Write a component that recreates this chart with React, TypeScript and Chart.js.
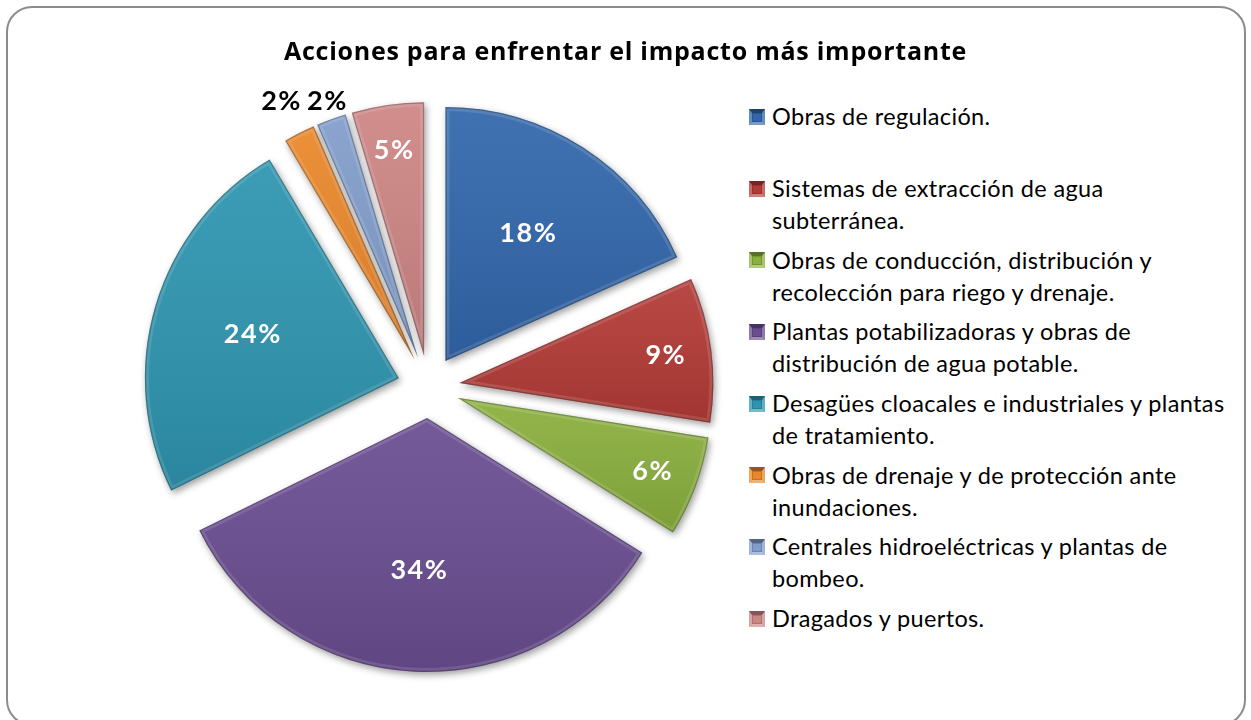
import React, { useEffect, useRef } from "react";
import { Chart, registerables } from "chart.js";

Chart.register(...registerables);

const chartTitle = "Acciones para enfrentar el impacto más importante";

// Legend categories (line breaks as in the original legend)
const categories: string[][] = [
  ["Obras de regulación."],
  ["Sistemas de extracción de agua", "subterránea."],
  ["Obras de conducción, distribución y", "recolección para riego y drenaje."],
  ["Plantas potabilizadoras y obras de", "distribución de agua potable."],
  ["Desagües cloacales e industriales y plantas", "de tratamiento."],
  ["Obras de drenaje y de protección ante", "inundaciones."],
  ["Centrales hidroeléctricas y plantas de", "bombeo."],
  ["Dragados y puertos."],
];

// Shares (%); labels show the rounded values
const shares = [18.3, 9.2, 6.4, 33.8, 23.8, 2.0, 1.9, 4.6];

const sliceColors = [
  "#3166AB",
  "#B33A36",
  "#8AAF3D",
  "#6A4D91",
  "#2E95B0",
  "#EA872A",
  "#819DCB",
  "#CD8584",
];

const FONT = "Lato, 'Open Sans', sans-serif";
const EXPLODE = 31;

const explodePlugin = {
  id: "explode",
  beforeDatasetDraw(chart: any, args: any) {
    const ctx: CanvasRenderingContext2D = chart.ctx;
    const arcs = args.meta.data;
    arcs.forEach((arc: any) => {
      const p = arc.getProps(["x", "y", "startAngle", "endAngle", "outerRadius"], true);
      const mid = (p.startAngle + p.endAngle) / 2;
      const dx = Math.cos(mid) * EXPLODE;
      const dy = Math.sin(mid) * EXPLODE;
      ctx.save();
      ctx.translate(dx, dy);
      ctx.shadowColor = "rgba(0,0,0,0.38)";
      ctx.shadowBlur = 7;
      ctx.shadowOffsetX = 2;
      ctx.shadowOffsetY = 3;
      arc.draw(ctx);
      ctx.restore();

      ctx.save();
      ctx.translate(dx, dy);
      ctx.beginPath();
      ctx.moveTo(p.x, p.y);
      ctx.arc(p.x, p.y, p.outerRadius, p.startAngle, p.endAngle);
      ctx.closePath();
      ctx.clip();
      let minY = p.y;
      let maxY = p.y;
      for (let k = 0; k <= 24; k++) {
        const a = p.startAngle + ((p.endAngle - p.startAngle) * k) / 24;
        const yy = p.y + Math.sin(a) * p.outerRadius;
        minY = Math.min(minY, yy);
        maxY = Math.max(maxY, yy);
      }
      const g = ctx.createLinearGradient(0, minY, 0, maxY + 1);
      g.addColorStop(0, "rgba(255,255,255,0.07)");
      g.addColorStop(1, "rgba(0,0,0,0.10)");
      ctx.fillStyle = g;
      ctx.fillRect(p.x - p.outerRadius - 5, minY - 5, 2 * p.outerRadius + 10, maxY - minY + 10);
      ctx.lineJoin = "round";
      ctx.lineWidth = 8;
      ctx.strokeStyle = "rgba(255,255,255,0.12)";
      ctx.stroke();
      ctx.lineWidth = 2.5;
      ctx.strokeStyle = "rgba(0,0,0,0.25)";
      ctx.stroke();
      ctx.restore();
    });
    return false;
  },
};

const labelPlugin = {
  id: "pctLabels",
  afterDatasetsDraw(chart: any) {
    const ctx: any = chart.ctx;
    const meta = chart.getDatasetMeta(0);
    const data: number[] = chart.data.datasets[0].data;
    const total = data.reduce((a, b) => a + b, 0);
    ctx.save();
    ctx.font = `bold 27px ${FONT}`;
    ctx.letterSpacing = "1.5px";
    ctx.textAlign = "center";
    ctx.textBaseline = "middle";
    const items: { text: string; x: number; y: number; color: string; outside: boolean; w: number }[] = [];
    meta.data.forEach((arc: any, i: number) => {
      const p = arc.getProps(["x", "y", "startAngle", "endAngle", "outerRadius"], true);
      const mid = (p.startAngle + p.endAngle) / 2;
      const pct = (data[i] / total) * 100;
      const text = Math.round(pct) + "%";
      const outside = pct < 3;
      const dist = outside
        ? EXPLODE + p.outerRadius + 27
        : EXPLODE + (pct >= 15 ? 0.6 : 0.82) * p.outerRadius;
      items.push({
        text,
        x: p.x + Math.cos(mid) * dist,
        y: p.y + Math.sin(mid) * dist,
        color: outside ? "#000000" : "#FFFFFF",
        outside,
        w: ctx.measureText(text).width,
      });
    });
    // resolve overlaps between neighbouring outside labels
    const outs = items.filter((it) => it.outside);
    for (let k = 1; k < outs.length; k++) {
      const a = outs[k - 1];
      const b = outs[k];
      const need = (a.w + b.w) / 2 + 5;
      const gap = Math.abs(b.x - a.x);
      if (gap < need) {
        const push = (need - gap) / 2;
        const dir = b.x >= a.x ? 1 : -1;
        a.x -= push * dir;
        b.x += push * dir;
        const my = (a.y + b.y) / 2;
        a.y = my;
        b.y = my;
      }
    }
    items.forEach((it) => {
      ctx.fillStyle = it.color;
      ctx.fillText(it.text, it.x, it.y);
    });
    ctx.restore();
  },
};

function Marker({ color }: { color: string }) {
  return (
    <div
      style={{
        width: 16,
        height: 16,
        boxSizing: "border-box",
        marginTop: 8.6,
        marginRight: 7,
        flex: "0 0 auto",
        background: color,
        borderStyle: "solid",
        borderWidth: "4px 3px 3px 3px",
        borderTopColor: "rgba(0,0,0,0.35)",
        borderLeftColor: "rgba(255,255,255,0.25)",
        borderRightColor: "rgba(255,255,255,0.25)",
        borderBottomColor: "rgba(255,255,255,0.35)",
        boxShadow: "inset 0 0 0 1px rgba(0,0,0,0.15)",
      }}
    />
  );
}

export default function App() {
  const canvasRef = useRef<HTMLCanvasElement | null>(null);

  useEffect(() => {
    const canvas = canvasRef.current;
    if (!canvas) return;
    const chart = new Chart(canvas, {
      type: "pie",
      data: {
        labels: categories.map((l) => l.join(" ")),
        datasets: [
          {
            data: shares,
            backgroundColor: sliceColors,
            borderWidth: 0,
            hoverOffset: 0,
            offset: 0,
            radius: 254,
          } as any,
        ],
      },
      options: {
        responsive: false,
        animation: false,
        devicePixelRatio: 1,
        events: [],
        layout: { padding: { left: 128.6, right: 11.4, top: 87, bottom: 33 } },
        plugins: {
          legend: { display: false },
          tooltip: { enabled: false },
          title: { display: false },
        },
      } as any,
      plugins: [explodePlugin as any, labelPlugin as any],
    });
    return () => chart.destroy();
  }, []);

  return (
    <div
      style={{
        position: "fixed",
        left: 0,
        top: 0,
        width: 1251,
        height: 720,
        overflow: "hidden",
        background: "#ffffff",
        fontFamily: FONT,
      }}
    >
      <div
        style={{
          position: "absolute",
          left: 6,
          top: 6,
          width: 1240,
          height: 720,
          boxSizing: "border-box",
          border: "2px solid #8c8c8c",
          borderRadius: 26,
        }}
      />
      <canvas
        ref={canvasRef}
        width={740}
        height={720}
        style={{ position: "absolute", left: 0, top: 0, width: 740, height: 720 }}
      />
      <div
        style={{
          position: "absolute",
          left: 0,
          top: 35.3,
          width: 1251,
          textAlign: "center",
          fontFamily: "'Open Sans', Lato, sans-serif",
          fontWeight: 700,
          fontSize: 25,
          letterSpacing: 0.75,
          lineHeight: "30px",
          color: "#000",
          whiteSpace: "nowrap",
        }}
      >
        {chartTitle}
      </div>
      <div style={{ position: "absolute", left: 749, top: 100.3 }}>
        {categories.map((lines, i) => (
          <div key={i} style={{ display: "flex", height: 71.7, alignItems: "flex-start" }}>
            <Marker color={sliceColors[i]} />
            <div
              style={{
                fontSize: 23.5,
                letterSpacing: 0.35,
                lineHeight: "32px",
                color: "#000",
                whiteSpace: "nowrap",
              }}
            >
              {lines.map((ln, j) => (
                <div key={j}>{ln}</div>
              ))}
            </div>
          </div>
        ))}
      </div>
    </div>
  );
}
